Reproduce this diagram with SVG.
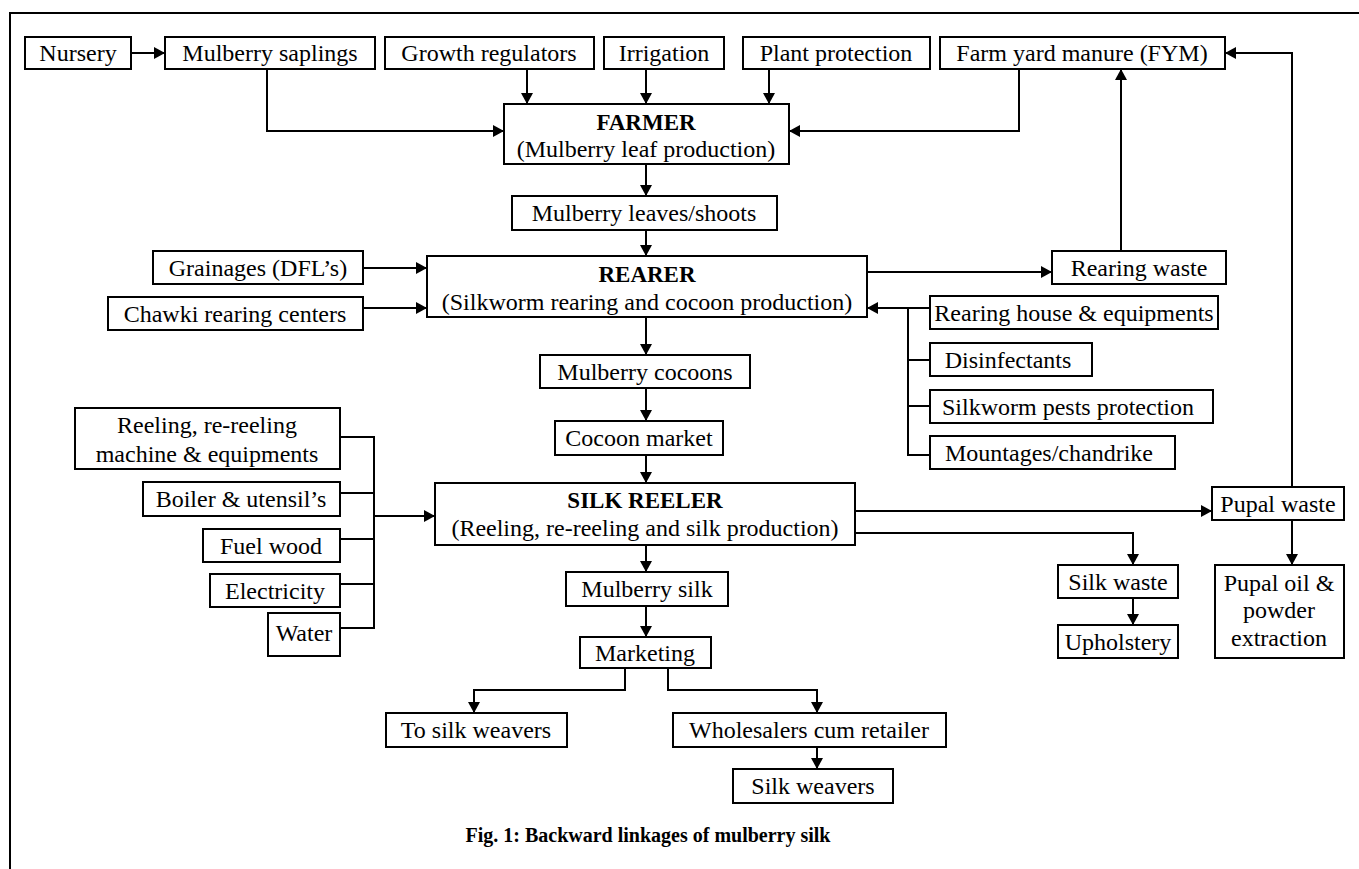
<svg xmlns="http://www.w3.org/2000/svg" width="1359" height="869" viewBox="0 0 1359 869">
<style>
.b{fill:#fff;stroke:#000;stroke-width:2}
.t{font-family:"Liberation Serif","Times New Roman",serif;font-size:24px;fill:#000;text-anchor:middle}
.tb{font-family:"Liberation Serif","Times New Roman",serif;font-size:23px;font-weight:bold;fill:#000;text-anchor:middle}
.c{fill:none;stroke:#000;stroke-width:2}
</style>
<defs>
<marker id="ah" markerUnits="userSpaceOnUse" markerWidth="12" markerHeight="12" refX="11" refY="6" orient="auto">
<path d="M0,0 L11,6 L0,12 z" fill="#000"/>
</marker>
</defs>
<rect width="1359" height="869" fill="#fff"/>
<path d="M10,869 V13 H1359" fill="none" stroke="#000" stroke-width="2"/>

<g id="connectors" class="c">
<path d="M131,53 H165" marker-end="url(#ah)"/>
<path d="M267,69 V131 H504" marker-end="url(#ah)"/>
<path d="M527,69 V104" marker-end="url(#ah)"/>
<path d="M646,69 V104" marker-end="url(#ah)"/>
<path d="M769,69 V104" marker-end="url(#ah)"/>
<path d="M1019,69 V131 H789" marker-end="url(#ah)"/>
<path d="M646,164 V196" marker-end="url(#ah)"/>
<path d="M646,230 V256" marker-end="url(#ah)"/>
<path d="M363,268 H427" marker-end="url(#ah)"/>
<path d="M363,308 H427" marker-end="url(#ah)"/>
<path d="M867,272 H1052" marker-end="url(#ah)"/>
<path d="M1121,251 V69" marker-end="url(#ah)"/>
<path d="M930,308 H867" marker-end="url(#ah)"/>
<path d="M908,308 V455 H930 M908,360 H930 M908,406 H930"/>
<path d="M646,317 V355" marker-end="url(#ah)"/>
<path d="M646,388 V421" marker-end="url(#ah)"/>
<path d="M646,455 V483" marker-end="url(#ah)"/>
<path d="M340,437 H374 V628 H340 M340,493 H374 M340,539 H374 M340,584 H374"/>
<path d="M374,516 H435" marker-end="url(#ah)"/>
<path d="M855,511 H1212" marker-end="url(#ah)"/>
<path d="M855,533 H1133 V565" marker-end="url(#ah)"/>
<path d="M1133,598 V625" marker-end="url(#ah)"/>
<path d="M1292,520 V565" marker-end="url(#ah)"/>
<path d="M1292,487 V53 H1225" marker-end="url(#ah)"/>
<path d="M646,545 V572" marker-end="url(#ah)"/>
<path d="M646,606 V637" marker-end="url(#ah)"/>
<path d="M625,668 V690 H474 V713" marker-end="url(#ah)"/>
<path d="M668,668 V690 H817 V713" marker-end="url(#ah)"/>
<path d="M817,747 V769" marker-end="url(#ah)"/>
</g>

<g id="nursery"><rect class="b" x="25" y="37" width="106" height="32"/><text class="t" x="78" y="61">Nursery</text></g>
<g id="saplings"><rect class="b" x="165" y="37" width="210" height="32"/><text class="t" x="270" y="61">Mulberry saplings</text></g>
<g id="growth"><rect class="b" x="385" y="37" width="209" height="32"/><text class="t" x="489" y="61">Growth regulators</text></g>
<g id="irrigation"><rect class="b" x="604" y="37" width="120" height="32"/><text class="t" x="664" y="61">Irrigation</text></g>
<g id="plantprot"><rect class="b" x="743" y="37" width="187" height="32"/><text class="t" x="836" y="61">Plant protection</text></g>
<g id="fym"><rect class="b" x="940" y="37" width="285" height="32"/><text class="t" x="1082" y="61">Farm yard manure (FYM)</text></g>
<g id="farmer"><rect class="b" x="504" y="104" width="285" height="60"/><text class="tb" x="646" y="130">FARMER</text><text class="t" x="646" y="157">(Mulberry leaf production)</text></g>
<g id="leaves"><rect class="b" x="512" y="196" width="265" height="34"/><text class="t" x="644" y="221">Mulberry leaves/shoots</text></g>
<g id="grainages"><rect class="b" x="153" y="251" width="210" height="33"/><text class="t" x="258" y="276">Grainages (DFL’s)</text></g>
<g id="chawki"><rect class="b" x="108" y="297" width="255" height="33"/><text class="t" x="235" y="322">Chawki rearing centers</text></g>
<g id="rearer"><rect class="b" x="427" y="256" width="440" height="61"/><text class="tb" x="647" y="282">REARER</text><text class="t" x="647" y="310">(Silkworm rearing and cocoon production)</text></g>
<g id="rearingwaste"><rect class="b" x="1052" y="251" width="174" height="33"/><text class="t" x="1139" y="276">Rearing waste</text></g>
<g id="rearinghouse"><rect class="b" x="930" y="296" width="288" height="33"/><text class="t" x="1074" y="321">Rearing house &amp; equipments</text></g>
<g id="disinfectants"><rect class="b" x="930" y="343" width="162" height="33"/><text class="t" x="1008" y="368">Disinfectants</text></g>
<g id="pests"><rect class="b" x="930" y="390" width="283" height="33"/><text class="t" x="1068" y="415">Silkworm pests protection</text></g>
<g id="mountages"><rect class="b" x="930" y="436" width="245" height="33"/><text class="t" x="1049" y="461">Mountages/chandrike</text></g>
<g id="cocoons"><rect class="b" x="540" y="355" width="210" height="33"/><text class="t" x="645" y="380">Mulberry cocoons</text></g>
<g id="market"><rect class="b" x="555" y="421" width="168" height="34"/><text class="t" x="639" y="446">Cocoon market</text></g>
<g id="reelingmachine"><rect class="b" x="75" y="408" width="265" height="61"/><text class="t" x="207" y="433">Reeling, re-reeling</text><text class="t" x="207" y="462">machine &amp; equipments</text></g>
<g id="boiler"><rect class="b" x="143" y="482" width="197" height="34"/><text class="t" x="241" y="507">Boiler &amp; utensil’s</text></g>
<g id="fuelwood"><rect class="b" x="203" y="529" width="137" height="33"/><text class="t" x="271" y="554">Fuel wood</text></g>
<g id="electricity"><rect class="b" x="210" y="574" width="130" height="33"/><text class="t" x="275" y="599">Electricity</text></g>
<g id="water"><rect class="b" x="268" y="613" width="72" height="43"/><text class="t" x="304" y="641">Water</text></g>
<g id="silkreeler"><rect class="b" x="435" y="483" width="420" height="62"/><text class="tb" x="645" y="508">SILK REELER</text><text class="t" x="645" y="536">(Reeling, re-reeling and silk production)</text></g>
<g id="pupalwaste"><rect class="b" x="1212" y="487" width="132" height="33"/><text class="t" x="1278" y="512">Pupal waste</text></g>
<g id="silkwaste"><rect class="b" x="1058" y="565" width="120" height="33"/><text class="t" x="1118" y="590">Silk waste</text></g>
<g id="upholstery"><rect class="b" x="1058" y="625" width="120" height="33"/><text class="t" x="1118" y="650">Upholstery</text></g>
<g id="pupaloil"><rect class="b" x="1215" y="565" width="129" height="93"/><text class="t" x="1279" y="591">Pupal oil &amp;</text><text class="t" x="1279" y="618">powder</text><text class="t" x="1279" y="646">extraction</text></g>
<g id="mulberrysilk"><rect class="b" x="566" y="572" width="162" height="34"/><text class="t" x="647" y="597">Mulberry silk</text></g>
<g id="marketing"><rect class="b" x="580" y="637" width="131" height="31"/><text class="t" x="645" y="661">Marketing</text></g>
<g id="tosilkweavers"><rect class="b" x="386" y="713" width="181" height="34"/><text class="t" x="476" y="738">To silk weavers</text></g>
<g id="wholesalers"><rect class="b" x="673" y="713" width="273" height="34"/><text class="t" x="809" y="738">Wholesalers cum retailer</text></g>
<g id="silkweavers"><rect class="b" x="733" y="769" width="160" height="34"/><text class="t" x="813" y="794">Silk weavers</text></g>
<text x="648" y="842" style="font-family:'Liberation Serif','Times New Roman',serif;font-size:20px;font-weight:bold;text-anchor:middle">Fig. 1: Backward linkages of mulberry silk</text>
</svg>
